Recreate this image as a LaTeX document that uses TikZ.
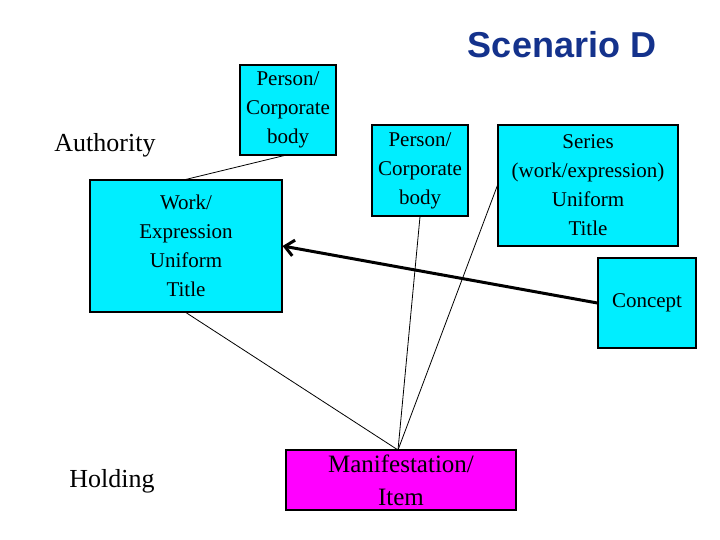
\documentclass[tikz,border=0pt]{standalone}
\usetikzlibrary{arrows.meta}
\usepackage{fontspec}
\setmainfont{Liberation Serif}
\newfontfamily\hsans{Liberation Sans}
\definecolor{cy}{RGB}{0,238,255}
\definecolor{mg}{RGB}{255,0,255}
\definecolor{tb}{RGB}{20,50,140}
\begin{document}
\begin{tikzpicture}[x=1pt,y=-1pt,
 box/.style={draw=black,line width=1.2pt,fill=cy,inner sep=0pt,align=center,font=\fontsize{21}{29}\selectfont},
 lab/.style={font=\fontsize{26}{30}\selectfont},
 ln/.style={draw=black,line width=0.8pt}]
\useasboundingbox (0,0) rectangle (720,540);
\node[anchor=center,font=\hsans\bfseries\fontsize{36}{40}\selectfont,text=tb] (title) at (562,45) {Scenario D};
\node[lab] (auth) at (105,145) {Authority};
\node[lab] (hold) at (112,481) {Holding};
\node[box,minimum width=96,minimum height=90] (pc1) at (288,110) {Person/\\Corporate\\body};
\node[box,minimum width=96,minimum height=91] (pc2) at (420,170.5) {Person/\\Corporate\\body};
\node[box,minimum width=192,minimum height=132] (work) at (186,246) {Work/\\Expression\\Uniform\\Title};
\node[box,minimum width=180,minimum height=121] (ser) at (588,185.5) {Series\\(work/expression)\\Uniform\\Title};
\node[box,minimum width=98,minimum height=90] (con) at (647,303) {Concept};
\node[box,fill=mg,minimum width=230,minimum height=60,font=\fontsize{25}{33}\selectfont] (man) at (401,480) {Manifestation/\\Item};
\coordinate (m) at (398,450);
\draw[ln] (pc1.south)++(-4,0) -- (work.north);
\draw[ln] (pc2.south) -- (m);
\draw[ln] (ser.west) -- (m);
\draw[ln] (work.south) -- (m);
\draw[line width=3pt,-{Straight Barb[length=9pt,width=16pt]}] (con.west) -- (work.east);
\end{tikzpicture}
\end{document}
